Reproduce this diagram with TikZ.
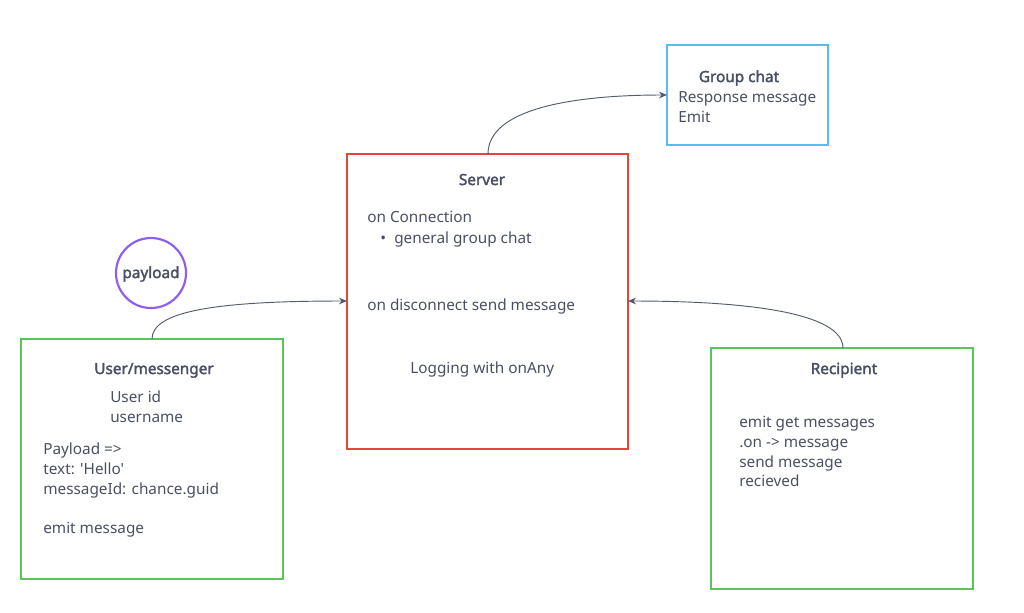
\documentclass[tikz,border=0pt]{standalone}
\usepackage{fontspec}
\setmainfont{Noto Sans}[Ligatures=TeXOff, BoldFont={Noto Sans}, BoldFeatures={FakeBold=2.2}]
\usetikzlibrary{arrows.meta}
\definecolor{txt}{HTML}{4A4F63}
\definecolor{lnk}{HTML}{555B6E}
\definecolor{bluebox}{HTML}{55BEF5}
\definecolor{redbox}{HTML}{E0483A}
\definecolor{greenbox}{HTML}{5CC25A}
\definecolor{purp}{HTML}{8E5CF2}
\tikzset{
  boxshape/.style={draw, line width=1.6pt, inner sep=0pt, minimum width=#1},
  lbl/.style={anchor=base west, inner sep=0pt, text=txt, font=\fontsize{11.5}{13}\selectfont},
  ttl/.style={anchor=base, inner sep=0pt, text=txt, font=\fontsize{11.5}{13}\selectfont\bfseries},
  conn/.style={draw=lnk, line width=0.7pt, -{Stealth[length=6pt,width=5pt]}}
}
\begin{document}
\begin{tikzpicture}[x=0.75pt,y=-0.75pt]
\useasboundingbox (0,0) rectangle (1024,612);
% boxes
\node[boxshape=120.75pt, draw=bluebox, minimum height=75pt] (grp) at (747.5,95) {};
\node[boxshape=210.75pt, draw=redbox, minimum height=221.25pt] (srv) at (487.5,301.5) {};
\node[boxshape=196.5pt, draw=greenbox, minimum height=180pt] (usr) at (152,459) {};
\node[boxshape=196.5pt, draw=greenbox, minimum height=180.75pt] (rcp) at (842,468.5) {};
\node[draw=purp, line width=1.6pt, circle, minimum size=52.5pt, inner sep=0pt] (pay) at (151,273) {};
% texts
\node[ttl] (tgrp) at (739,82) {Group chat};
\node[lbl] (g1) at (678,102) {Response message};
\node[lbl] (g2) at (678,122) {Emit};

\node[ttl] (tsrv) at (482,185) {Server};
\node[lbl] (s1) at (367,222) {on Connection};
\node[lbl] (s2b) at (380,243) {•};
\node[lbl] (s2) at (394,243) {general group chat};
\node[lbl] (s3) at (367,310) {on disconnect send message};
\node[lbl] (s4) at (410,373) {Logging with onAny};

\node[ttl] (tpay) at (151,278) {payload};

\node[ttl] (tusr) at (154,374) {User/messenger};
\node[lbl] (u1) at (110,402) {User id};
\node[lbl] (u2) at (110,422) {username};
\node[lbl] (u3) at (43,454) {Payload =>};
\node[lbl] (u4) at (43,474) {text: 'Hello'};
\node[lbl] (u5) at (43,494) {messageId: chance.guid};
\node[lbl] (u6) at (43,533) {emit message};

\node[ttl] (trcp) at (844,374) {Recipient};
\node[lbl] (r1) at (739,427) {emit get messages};
\node[lbl] (r2) at (739,447) {.on -> message};
\node[lbl] (r3) at (739,467) {send message};
\node[lbl] (r4) at (739,486) {recieved};
% anchors for connectors
\coordinate (srvtop) at (488,154);
\coordinate (grpleft) at (667,95);
\coordinate (usrtop) at (152,339);
\coordinate (srvleft) at (347,301);
\coordinate (rcptop) at (843,348);
\coordinate (srvright) at (628,301);
% connectors
\draw[conn] (srvtop) .. controls +(0,-45) and +(-95,0) .. (grpleft);
\draw[conn] (usrtop) .. controls +(0,-28) and +(-130,0) .. (srvleft);
\draw[conn] (rcptop) .. controls +(0,-35) and +(120,0) .. (srvright);
\end{tikzpicture}
\end{document}
